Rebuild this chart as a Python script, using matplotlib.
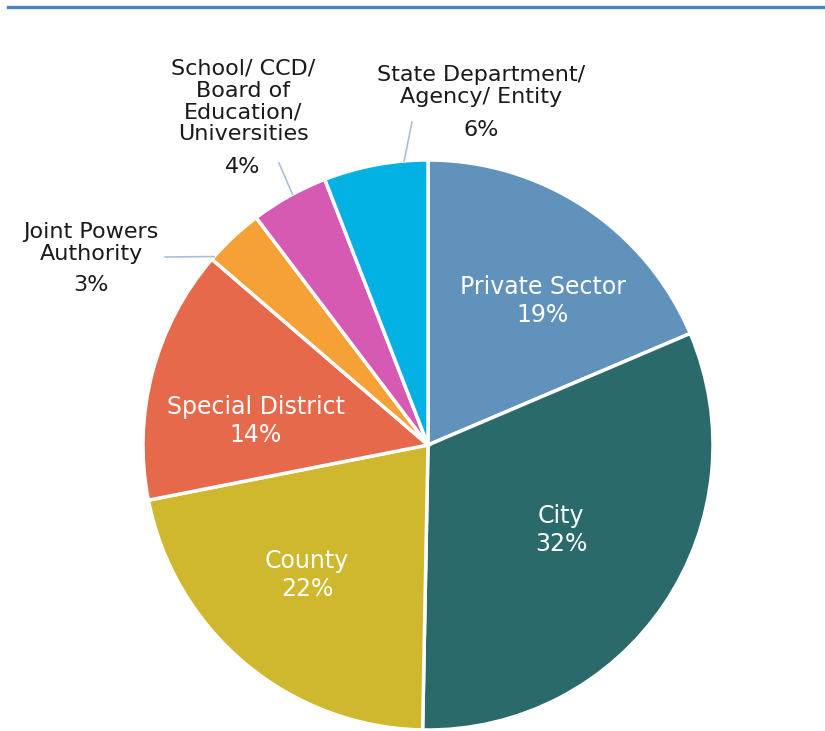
import numpy as np
import matplotlib.pyplot as plt
from matplotlib.lines import Line2D

categories = ["Private Sector", "City", "County", "Special District",
              "Joint Powers\nAuthority", "School/ CCD/\nBoard of\nEducation/\nUniversities",
              "State Department/\nAgency/ Entity"]
shares = [18.6, 31.7, 21.6, 14.4, 3.4, 4.4, 5.9]
colors = ["#6092bb", "#2a6a6a", "#cfb82e", "#e5694a", "#f6a136", "#d65ab3", "#02b1e3"]

W, H = 825, 731
cx, cy, R = 428, 445, 285

# label layout in pixels from top-left
inside_pos = {0: (543, 301), 1: (561, 530), 2: (307, 575), 3: (256, 421)}
# outside: (center x, name top y, pct center y, leader start, leader angle on pie)
outside_pos = {4: (91, 222, 285, (165, 257), 138.6),
               5: (243, 59, 167, (279, 163), 118.4),
               6: (481, 65, 130, (412, 122), 94.8)}

fig = plt.figure(figsize=(W / 100, H / 100), dpi=100)
ax = fig.add_axes([0, 0, 1, 1])

wedges, _ = ax.pie(shares, colors=colors, startangle=90, counterclock=False,
                   center=(cx, H - cy), radius=R,
                   wedgeprops=dict(edgecolor="white", linewidth=2.5))
ax.set_xlim(0, W)
ax.set_ylim(0, H)
ax.set_aspect("equal")
ax.axis("off")

for i, w in enumerate(wedges):
    pct = f"{round(shares[i])}%"
    if i in inside_pos:
        x, y = inside_pos[i]
        ax.text(x, H - y, f"{categories[i]}\n{pct}", ha="center", va="center",
                color="white", fontsize=17, linespacing=1.22)
    else:
        x, top, py, start, ang = outside_pos[i]
        ax.text(x, H - top, categories[i], ha="center", va="top",
                color="#1a1a1a", fontsize=16, linespacing=1.1)
        ax.text(x, H - py, pct, ha="center", va="center",
                color="#1a1a1a", fontsize=16)
        a = np.deg2rad(ang)
        ax.plot([start[0], cx + R * np.cos(a)], [H - start[1], H - cy + R * np.sin(a)],
                color="#a9c0d8", lw=1.2)

fig.add_artist(Line2D([8 / W, 1], [1 - 7 / H, 1 - 7 / H], color="#4a85bf", lw=2.4))

fig.savefig("out.png", dpi=100, facecolor="white")
